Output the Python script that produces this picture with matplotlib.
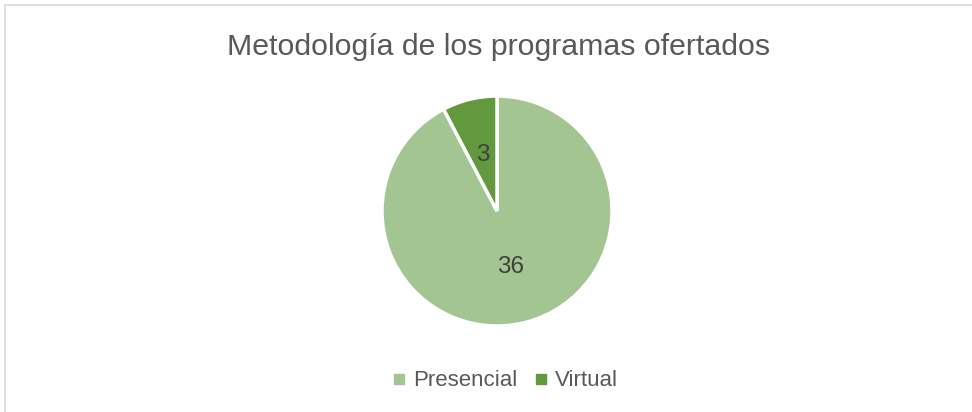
import matplotlib
matplotlib.use("Agg")
import matplotlib.pyplot as plt
from matplotlib.lines import Line2D
from matplotlib.patches import Rectangle

title = "Metodología de los programas ofertados"
categories = ["Presencial", "Virtual"]
values = [36, 3]
colors = ["#A2C592", "#62993E"]

plt.rcParams["font.family"] = ["Liberation Sans", "DejaVu Sans"]

W, H = 972, 412
fig = plt.figure(figsize=(W / 100, H / 100), dpi=100)

# chart border (right and bottom are cut off in the original)
fig.patches.append(Rectangle((5 / W, -0.1), 1.2, 1 - 5 / H + 0.1, transform=fig.transFigure,
                             fill=False, edgecolor="#D9D9D9", linewidth=1.2))

fig.text(499 / W, 1 - 47 / H, title, ha="center", va="center",
         fontsize=21.8, color="#595959")

cx, cy, r = 497, 211, 115
ax = fig.add_axes([(cx - r) / W, (H - cy - r) / H, 2 * r / W, 2 * r / H])
wedges, texts = ax.pie(values, colors=colors, startangle=90, counterclock=False,
                       labels=[str(v) for v in values], labeldistance=0.5,
                       wedgeprops=dict(edgecolor="white", linewidth=2.5),
                       textprops=dict(fontsize=17.5, color="#404040"))
for t in texts:
    t.set_ha("center")
    t.set_va("center")
for w in wedges:
    w.set_clip_on(False)
ax.set_xlim(-1, 1)
ax.set_ylim(-1, 1)
ax.set_aspect("equal")

handles = [Line2D([], [], marker="s", linestyle="none", markersize=7,
                  markerfacecolor=c, markeredgecolor=c) for c in colors]
fig.legend(handles, categories, loc="center", bbox_to_anchor=(503 / W, 1 - 381 / H),
           ncol=2, frameon=False, fontsize=16, labelcolor="#595959",
           handletextpad=0.1, columnspacing=0.6, handlelength=1.0)

fig.savefig("out.png", dpi=100)
